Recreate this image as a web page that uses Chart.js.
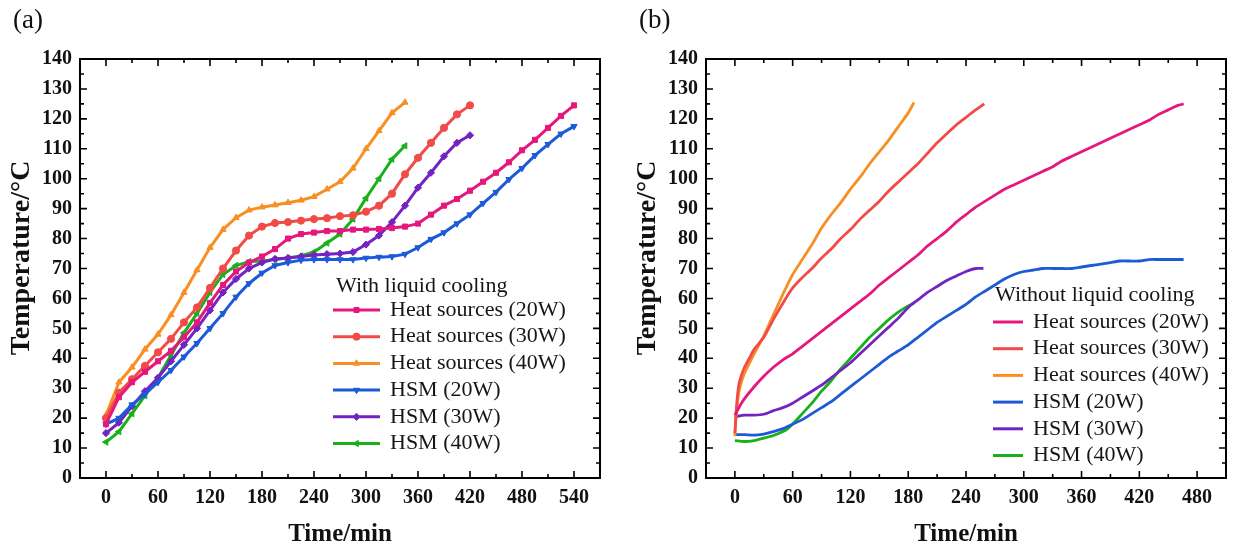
<!DOCTYPE html>
<html>
<head>
<meta charset="utf-8">
<script src="https://cdn.jsdelivr.net/npm/chart.js@4.4.0/dist/chart.umd.min.js"></script>
<style>
  html, body { margin: 0; padding: 0; background: #fff; }
  #wrap { position: relative; width: 1235px; height: 554px; overflow: hidden; background: #fff; }
  canvas { position: absolute; top: 0; }
  #ca { left: 0; }
  #cb { left: 617px; }
  .tag { position: absolute; top: 4px; font: 27px/30px "Liberation Serif", "Times New Roman", serif; color: #111; }
</style>
</head>
<body>
<div id="wrap">
  <canvas id="ca" width="617" height="554"></canvas>
  <canvas id="cb" width="618" height="554"></canvas>
  <div class="tag" style="left:13px">(a)</div>
  <div class="tag" style="left:639px">(b)</div>
</div>
<script>
// ---- (a) with liquid cooling: sampled every 15 min ----
const minutesA = [0,15,30,45,60,75,90,105,120,135,150,165,180,195,210,225,240,255,270,285,
  300,315,330,345,360,375,390,405,420,435,450,465,480,495,510,525,540];
const hs20A = [18,27,32,35.5,39,42.5,47,52,58.5,64.5,69,72,74,76.5,80,81.5,82,82.5,82.5,83,
  83,83.2,83.5,84,85,88,91,93.2,96,99,102,105.5,109.5,113,117,121,124.5];
const hs30A = [20,28.5,33,37.5,42,46.5,52,57,63.5,70,76,81,84,85.2,85.5,86,86.5,86.8,87.5,87.8,
  89,91,95,101.5,107,112,117,121.5,124.5];
const hs40A = [21,32,37,43,48,54.5,62,69.5,77,83,87,89.5,90.5,91.2,92,92.8,94,96.5,99,103.5,
  110,116,122,125.5];
const hsm20A = [18,20,24.5,28,32,36,40.5,45,50,55,60.5,65,68.5,71,72,72.8,73,73,73,73,
  73.5,73.8,74,74.8,77,79.8,82,85,88,91.8,95.5,99.8,103.5,107.8,111.5,115,117.5];
const hsm30A = [15,18.5,24,29,33.5,39,44.5,50,56,62,66.5,70,72,73.2,73.5,74,74.5,74.8,75,75.5,
  78,81,85.5,91,97,102,107.5,112,114.5];
const hsm40A = [12,15.5,21.5,27.5,33.5,41,48.5,55,62,68,71,72.3,72.5,73,73.5,74.2,75.5,78.5,81.5,86.5,
  93.5,100,106.5,111];

// ---- (b) without liquid cooling ----
const hs20B_t = [0,5,10,20,30,40,50,60,70,80,90,100,110,120,130,140,150,160,170,180,190,200,210,220,
  230,240,250,260,270,280,290,300,310,320,330,340,350,360,370,380,390,400,410,420,430,440,450,460,466];
const hs20B = [21,24,26.5,30.5,34,37,39.5,41.5,44,46.5,49,51.5,54,56.5,59,61.5,64.5,67,69.5,72,74.5,77.5,80,82.5,
  85.5,88,90.5,92.5,94.5,96.5,98,99.5,101,102.5,104,106,107.5,109,110.5,112,113.5,115,116.5,118,119.5,121.5,123,124.5,125];
const hs30B_t = [0,2,4,7,10,15,20,30,40,50,60,70,80,90,100,110,120,130,140,150,160,170,180,190,200,
  210,220,230,240,250,259];
const hs30B = [15,25,31,34.5,37,40,43,47,53,58.5,63.5,67,70,73.5,76.5,80,83,86.5,89.5,92.5,96,99,102,105,108.5,
  112,115,118,120.5,123,125];
const hs40B_t = [0,1,3,5,10,20,30,40,50,60,70,80,90,100,110,120,130,140,150,160,170,180,186];
const hs40B = [14,20,26,30,35,41.5,47.5,54.5,61.5,68,73,78,83.5,88,92,96.5,100.5,105,109,113,117.5,122,125.5];
const hsm20B_t = [0,10,20,30,40,50,60,70,80,90,100,110,120,130,140,150,160,170,180,190,200,210,220,230,
  240,250,260,270,280,290,300,310,320,330,340,350,360,370,380,390,400,410,420,430,440,450,460,466];
const hsm20B = [14.5,14.5,14.3,14.7,15.5,16.5,18,19.5,21.5,23.5,25.5,28,30.5,33,35.5,38,40.5,42.5,44.5,47,49.5,52,54,56,
  58,60.5,62.5,64.5,66.5,68,69,69.5,70,70,70,70,70.5,71,71.5,72,72.5,72.5,72.5,73,73,73,73,73];
const hsm30B_t = [0,10,20,30,40,50,60,70,80,90,100,110,120,130,140,150,160,170,180,190,200,210,220,230,240,250,258];
const hsm30B = [20.5,21,21,21.3,22.5,23.5,25,27,29,31,33.5,36,38.5,41.5,44.5,47.5,50.5,53.5,57,59.5,62,64,66,67.5,69,70,70];
const hsm40B_t = [0,10,20,30,40,50,55,60,70,80,90,100,110,120,130,140,150,160,170,180,186];
const hsm40B = [12.5,12.2,12.5,13.3,14.2,15.5,16.5,18,21.5,25,29,32.5,36.5,40,43.5,47,50,53,55.5,57.5,58.5];

// ---- axis tick labels ----
const xTicksA = [0,60,120,180,240,300,360,420,480,540];
const xTicksB = [0,60,120,180,240,300,360,420,480];
const yTicks = [0,10,20,30,40,50,60,70,80,90,100,110,120,130,140];

const seriesNames = ['Heat sources (20W)','Heat sources (30W)','Heat sources (40W)','HSM (20W)','HSM (30W)','HSM (40W)'];
const colors = ['#E6177C','#F24A47','#F78F22','#1D5AD8','#7323C1','#19B01A'];

const SERIF = '"Liberation Serif", "Times New Roman", serif';
Chart.defaults.font.family = SERIF;
Chart.defaults.color = '#111';

function pairs(ts, vs) { return vs.map((v, i) => ({ x: ts[i], y: v })); }

// frame with inward ticks on all four sides, plus the in-plot legend
const decor = {
  id: 'decor',
  afterDraw(chart, args, o) {
    const { ctx, chartArea: a, scales: { x, y } } = chart;
    ctx.save();
    ctx.strokeStyle = '#000';
    ctx.lineCap = 'butt';
    const xv = x.ticks.map(t => t.value);
    const yv = y.ticks.map(t => t.value);
    const mid = v => v.slice(1).map((t, i) => (t + v[i]) / 2);
    ctx.lineWidth = 1.6;
    ctx.beginPath();
    const xMark = (vals, len) => vals.forEach(v => {
      const p = x.getPixelForValue(v);
      ctx.moveTo(p, a.bottom); ctx.lineTo(p, a.bottom - len);
      ctx.moveTo(p, a.top); ctx.lineTo(p, a.top + len);
    });
    const yMark = (vals, len) => vals.forEach(v => {
      const p = y.getPixelForValue(v);
      ctx.moveTo(a.left, p); ctx.lineTo(a.left + len, p);
      ctx.moveTo(a.right, p); ctx.lineTo(a.right - len, p);
    });
    xMark(xv, 7); xMark(mid(xv), 4);
    yMark(yv, 7); yMark(mid(yv), 4);
    ctx.stroke();
    ctx.lineWidth = 2;
    ctx.strokeRect(a.left, a.top, a.right - a.left, a.bottom - a.top);

    // legend
    ctx.font = '22px ' + SERIF;
    ctx.fillStyle = '#161616';
    ctx.textBaseline = 'middle';
    ctx.textAlign = 'left';
    ctx.fillText(o.title, o.titleX, o.titleY);
    chart.data.datasets.forEach((ds, i) => {
      const yy = o.rowY + i * o.rowStep;
      ctx.strokeStyle = ds.borderColor;
      ctx.lineWidth = 3;
      ctx.beginPath();
      ctx.moveTo(o.lineX0, yy); ctx.lineTo(o.lineX1, yy);
      ctx.stroke();
      if (ds.pointRadius > 0 && Chart.helpers && Chart.helpers.drawPoint) {
        ctx.fillStyle = ds.borderColor;
        ctx.lineWidth = 1;
        Chart.helpers.drawPoint(ctx, { pointStyle: ds.pointStyle, rotation: ds.pointRotation || 0,
          radius: ds.pointRadius, borderWidth: 1 }, (o.lineX0 + o.lineX1) / 2, yy);
      }
      ctx.fillStyle = '#161616';
      ctx.fillText(ds.label, o.textX, yy);
    });
    ctx.restore();
  }
};

function axes(xMin, xMax, xTicks, yAxisWidth, yTitlePad) {
  return {
    x: {
      type: 'linear', min: xMin, max: xMax,
      afterBuildTicks: s => { s.ticks = xTicks.map(v => ({ value: v })); },
      afterFit: s => { s.height = 76; },
      grid: { display: false, drawTicks: false },
      border: { display: false },
      ticks: { autoSkip: false, maxRotation: 0, padding: 8, color: '#111', font: { size: 20, weight: 'bold' } },
      title: { display: true, text: 'Time/min', color: '#111', font: { size: 25, weight: 'bold' }, padding: { top: 4, bottom: 4 } }
    },
    y: {
      type: 'linear', min: 0, max: 140,
      afterBuildTicks: s => { s.ticks = yTicks.map(v => ({ value: v })); },
      afterFit: s => { s.width = yAxisWidth; },
      grid: { display: false, drawTicks: false },
      border: { display: false },
      ticks: { padding: 8, color: '#111', font: { size: 20, weight: 'bold' } },
      // leading spaces lift the rotated title slightly above the axis centre
      title: { display: true, text: '   Temperature/°C', color: '#111', font: { size: 28, weight: 'bold' }, padding: { top: yTitlePad, bottom: 0 } }
    }
  };
}

const markerStyles = [
  { pointStyle: 'rect', pointRotation: 0 },
  { pointStyle: 'circle', pointRotation: 0 },
  { pointStyle: 'triangle', pointRotation: 0 },
  { pointStyle: 'triangle', pointRotation: 180 },
  { pointStyle: 'rectRot', pointRotation: 0 },
  { pointStyle: 'triangle', pointRotation: 270 }
];

const dataA = [hs20A, hs30A, hs40A, hsm20A, hsm30A, hsm40A];
new Chart(document.getElementById('ca'), {
  type: 'line',
  data: {
    datasets: dataA.map((vals, i) => Object.assign({
      label: seriesNames[i],
      data: pairs(minutesA, vals),
      borderColor: colors[i], backgroundColor: colors[i],
      pointBackgroundColor: colors[i], pointBorderColor: colors[i],
      borderWidth: 3, pointRadius: 3.6, pointBorderWidth: 1, tension: 0
    }, markerStyles[i]))
  },
  options: {
    responsive: false, animation: false, devicePixelRatio: 1,
    layout: { padding: { top: 59, right: 17, left: 0, bottom: 0 } },
    scales: axes(-30, 570, xTicksA, 80, 5),
    plugins: {
      legend: { display: false }, tooltip: { enabled: false },
      decor: { title: 'With liquid cooling', titleX: 336, titleY: 286,
        rowY: 310, rowStep: 26.7, lineX0: 333, lineX1: 380, textX: 390 }
    }
  },
  plugins: [decor]
});

const dataB = [[hs20B_t, hs20B], [hs30B_t, hs30B], [hs40B_t, hs40B], [hsm20B_t, hsm20B], [hsm30B_t, hsm30B], [hsm40B_t, hsm40B]];
new Chart(document.getElementById('cb'), {
  type: 'line',
  data: {
    datasets: dataB.map((d, i) => ({
      label: seriesNames[i],
      data: pairs(d[0], d[1]),
      borderColor: colors[i], backgroundColor: colors[i],
      borderWidth: 2.8, pointRadius: 0, tension: 0.2
    }))
  },
  options: {
    responsive: false, animation: false, devicePixelRatio: 1,
    layout: { padding: { top: 59, right: 9, left: 0, bottom: 0 } },
    scales: axes(-30, 510, xTicksB, 89, 14),
    plugins: {
      legend: { display: false }, tooltip: { enabled: false },
      decor: { title: 'Without liquid cooling', titleX: 378, titleY: 295,
        rowY: 322, rowStep: 26.7, lineX0: 376, lineX1: 406, textX: 416 }
    }
  },
  plugins: [decor]
});
</script>
</body>
</html>
